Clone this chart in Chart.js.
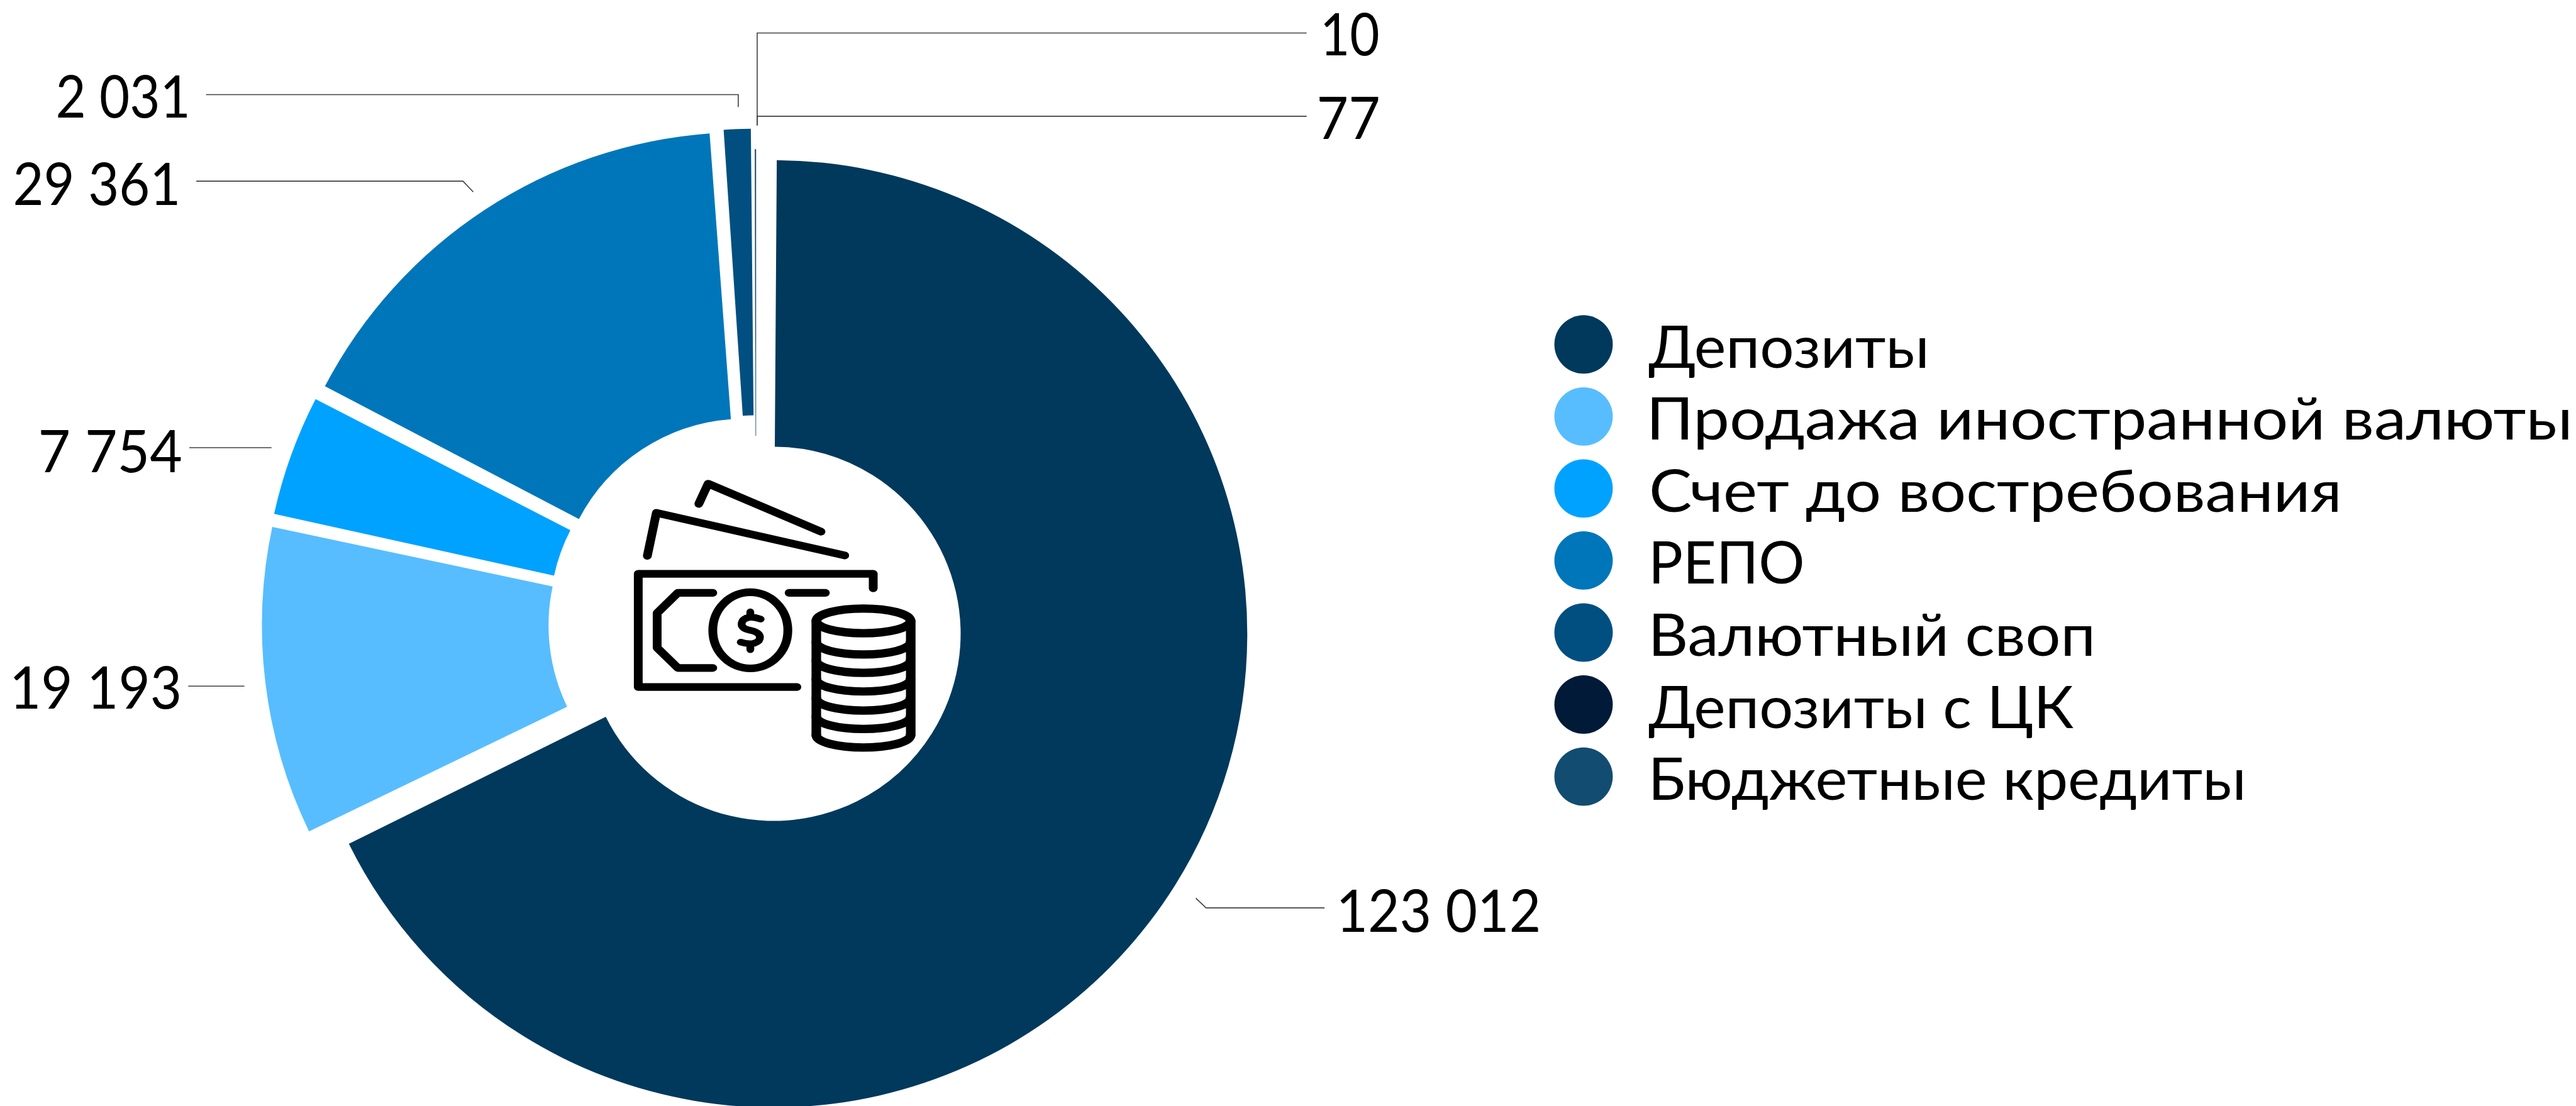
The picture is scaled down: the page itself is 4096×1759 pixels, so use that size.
<!DOCTYPE html>
<html><head><meta charset="utf-8">
<style>html,body{margin:0;padding:0;background:#fff;overflow:hidden;width:4096px;height:1759px}#w{position:relative;width:4096px;height:1759px;overflow:hidden}canvas{display:block}</style>
<script src="https://cdn.jsdelivr.net/npm/chart.js@4"></script>
</head><body><div id="w"><canvas id="c" width="4096" height="1840"></canvas></div>
<script>
const categories=["Депозиты","Продажа иностранной валюты","Счет до востребования","РЕПО","Валютный своп","Депозиты с ЦК","Бюджетные кредиты"];
const values=[123012,19193,7754,29361,2031,10,77];
const colors=["#00395C","#57BDFF","#00A2FF","#0076BA","#004F80","#001A38","#124C71"];
const exploded=[1,1,1,1,1,0,0];

const W=4096,H=1840,s=W/4763;
const FONT='Lato';
const WEIGHT=400;
const cx=1398*s,cy=1152*s,R=876*s,r=346*s,d=38*s;
const Rel=R-d,rel=r-d,OFF=4*d,S=2*Rel+OFF;
const fmt=v=>String(v).replace(/\B(?=(\d{3})+$)/g,' ');

// ink extents of the value labels in reference px, by data index: [left,right,baseline]
const labelPos=[[2478,2844,1723],[25,331,1310],[76,335,873],[28,328,379],[107,346,217],[2448,2549,102],[2440,2549,257]];
const leaders=[[[2449,1679],[2230,1679],[2211,1661]],[[348,1269],[452,1269]],[[350,828],[502,828]],[[363,335],[856,335],[875,355]],[[381,175],[1365,175],[1365,198]],[[2416,61],[1400,61],[1400,232]],[[2416,215],[1400,215],[1400,232]]];
const legendInk=[[3048,3560],[3054,4749],[3054,4323],[3057,3332],[3057,3867],[3048,3834],[3057,4146]];

function fitText(ctx,t,left,right,y){
  // stretch horizontally so that the ink spans left..right of the reference
  ctx.textAlign='left';
  const m=ctx.measureText(t), ink=m.actualBoundingBoxLeft+m.actualBoundingBoxRight, k=(right-left)*s/ink;
  ctx.save();ctx.translate(left*s+m.actualBoundingBoxLeft*k,y*s);ctx.scale(k,1);ctx.fillText(t,0,0);ctx.restore();
}
function drawIcon(ctx){
  ctx.save();
  ctx.translate(1050*s,800*s);ctx.scale(s/2.09,s/2.412);
  ctx.strokeStyle='#000';ctx.lineWidth=34;ctx.lineCap='round';ctx.lineJoin='round';
  const P=pts=>{ctx.beginPath();pts.forEach((p,i)=>i?ctx.lineTo(p[0],p[1]):ctx.moveTo(p[0],p[1]));ctx.stroke();};
  P([[506,318],[542,228],[978,442]]);
  P([[307,550],[342,358],[1070,548]]);
  P([[1180,695],[1180,630],[272,630],[272,1135],[885,1135]]);
  P([[560,715],[425,715],[345,805],[345,960],[425,1050],[560,1050]]);
  P([[855,715],[995,715]]);
  ctx.beginPath();ctx.ellipse(705,882,145,170,0,0,Math.PI*2);ctx.stroke();
  ctx.lineWidth=30;
  ctx.beginPath();ctx.moveTo(745,832);ctx.quadraticCurveTo(695,812,675,840);ctx.quadraticCurveTo(660,872,705,882);ctx.quadraticCurveTo(755,895,738,928);ctx.quadraticCurveTo(715,952,668,935);ctx.stroke();
  P([[705,800],[705,812]]);P([[705,955],[705,968]]);
  ctx.lineWidth=37;
  ctx.beginPath();ctx.ellipse(1142,840,182,55,0,0,Math.PI*2);ctx.stroke();
  P([[960,840],[960,1350]]);P([[1325,840],[1325,1350]]);
  [990,1072,1155,1240,1322,1405].forEach(b=>{ctx.beginPath();ctx.ellipse(1142,b-55,182,55,0,0,Math.PI);ctx.stroke();});
  ctx.restore();
}
const decor={id:'decor',
  afterDatasetsUpdate(chart){
    // Chart.js widens an offset arc by offset/4 * fix when drawing; compensate so every slice has the same ring radii
    chart.getDatasetMeta(0).data.forEach((a,i)=>{
      const fix=1-Math.sin(Math.min(Math.PI,a.circumference));
      const grow=exploded[i]?d*fix:0;
      a.outerRadius=R-grow;a.innerRadius=r-grow;
    });
  },
  afterDraw(chart){
    const ctx=chart.ctx;ctx.save();
    ctx.strokeStyle='#404040';ctx.lineWidth=1.6;
    leaders.forEach(l=>{ctx.beginPath();l.forEach((p,i)=>i?ctx.lineTo(p[0]*s,p[1]*s):ctx.moveTo(p[0]*s,p[1]*s));ctx.stroke();});
    ctx.fillStyle='#000';ctx.textBaseline='alphabetic';
    ctx.font=`${WEIGHT} ${108*s}px ${FONT}`;
    values.forEach((v,i)=>{const p=labelPos[i];fitText(ctx,fmt(v),p[0],p[1],p[2]);});
    categories.forEach((c,i)=>{
      const y=637+i*133.2;
      ctx.fillStyle=colors[i];ctx.beginPath();ctx.arc(2928*s,y*s,54*s,0,Math.PI*2);ctx.fill();
      ctx.fillStyle='#000';
      fitText(ctx,c,legendInk[i][0],legendInk[i][1],y+43);
    });
    drawIcon(ctx);
    ctx.restore();
  }};
new Chart(document.getElementById('c'),{type:'doughnut',
  data:{labels:categories,datasets:[{data:values,backgroundColor:colors,borderWidth:0,offset:exploded.map(e=>e?OFF:0)}]},
  options:{responsive:false,animation:false,cutout:(rel/Rel*100)+'%',rotation:0,
    layout:{padding:{left:cx-S/2,right:W-cx-S/2,top:cy-S/2,bottom:H-cy-S/2}},
    plugins:{legend:{display:false},tooltip:{enabled:false}}},
  plugins:[decor]});
</script></body></html>
